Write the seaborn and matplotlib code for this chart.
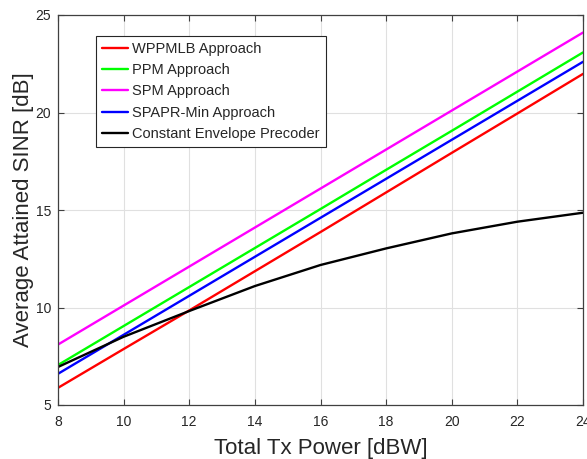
import numpy as np
import pandas as pd
import matplotlib
matplotlib.use("Agg")
import matplotlib.pyplot as plt
import seaborn as sns

power_dbw = [8, 10, 12, 14, 16, 18, 20, 22, 24]
wppmlb = [5.88, 7.87, 9.85, 11.86, 13.87, 15.9, 17.93, 19.95, 21.98]
ppm = [7.05, 9.05, 11.05, 13.05, 15.05, 17.06, 19.06, 21.07, 23.08]
spm = [8.1, 10.1, 12.1, 14.1, 16.1, 18.1, 20.1, 22.1, 24.1]
spapr_min = [6.6, 8.6, 10.6, 12.6, 14.6, 16.6, 18.6, 20.6, 22.6]
const_env = [6.95, 8.5, 9.82, 11.1, 12.18, 13.03, 13.8, 14.4, 14.86]

series_names = ["WPPMLB Approach", "PPM Approach", "SPM Approach",
                "SPAPR-Min Approach", "Constant Envelope Precoder"]
series_vals = [wppmlb, ppm, spm, spapr_min, const_env]
colors = ["#ff0000", "#00ff00", "#ff00ff", "#0000ff", "#000000"]

df = pd.concat([pd.DataFrame({"power": power_dbw, "sinr": v, "method": n})
                for n, v in zip(series_names, series_vals)], ignore_index=True)

sns.set_style("ticks")
plt.rcParams["font.family"] = ["Liberation Sans", "DejaVu Sans"]

fig = plt.figure(figsize=(5.87, 4.59), dpi=100)
ax = fig.add_axes([58/587, 1-405/459, (583-58)/587, (405-15)/459])

sns.lineplot(data=df, x="power", y="sinr", hue="method", hue_order=series_names,
             palette=dict(zip(series_names, colors)), linewidth=1.7, ax=ax)

ax.set_xlim(8, 24)
ax.set_ylim(5, 25)
ax.set_xticks(range(8, 25, 2))
ax.set_yticks(range(5, 26, 5))
ax.grid(True, color="#e0e0e0", linewidth=0.8)
ax.set_axisbelow(True)
for s in ax.spines.values():
    s.set_color("#404040")
    s.set_linewidth(0.9)
ax.tick_params(direction="in", top=True, right=True, labelsize=10,
               colors="#404040", labelcolor="#262626", length=4)
ax.tick_params(axis="x", pad=7)
ax.tick_params(axis="y", pad=5)
ax.set_xlabel("Total Tx Power [dBW]", fontsize=16, color="#262626", labelpad=7)
ax.set_ylabel("Average Attained SINR [dB]", fontsize=16, color="#262626", labelpad=1)

leg = ax.legend(loc="upper left", bbox_to_anchor=((96-58)/525, 1-(36-15)/390),
                fontsize=10.5, frameon=True, fancybox=False, edgecolor="#262626",
                framealpha=1, borderpad=0.4, labelspacing=0.5, handlelength=1.8,
                handletextpad=0.3, borderaxespad=0)
leg.get_frame().set_linewidth(0.8)

fig.savefig("out.png", dpi=100)
